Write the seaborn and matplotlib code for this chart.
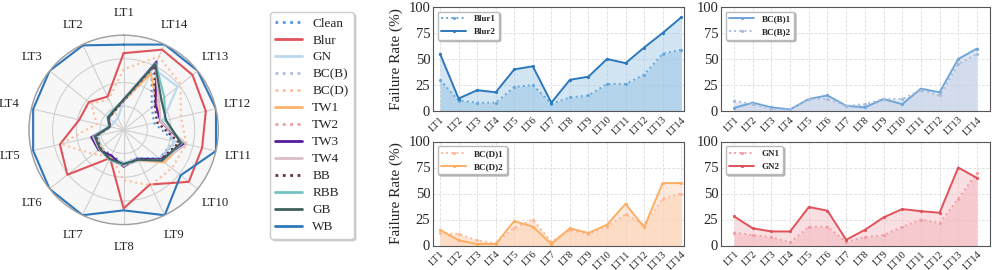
import numpy as np
import pandas as pd
import matplotlib
matplotlib.use("Agg")
import matplotlib.pyplot as plt
import seaborn as sns
from matplotlib.lines import Line2D

# ---------------- data ----------------
categories = ["LT1", "LT2", "LT3", "LT4", "LT5", "LT6", "LT7",
              "LT8", "LT9", "LT10", "LT11", "LT12", "LT13", "LT14"]

radar_names = ["Clean", "Blur", "GN", "BC(B)", "BC(D)", "TW1", "TW2",
               "TW3", "TW4", "BB", "RBB", "GB", "WB"]
r_clean = [30, 22, 20, 14, 28, 30, 30, 35, 33, 48, 55, 33, 38, 68]
r_blur = [81, 39, 47, 48, 69, 76, 33, 83, 64, 88, 85, 89, 93, 94]
r_gn = [30, 14, 13, 14, 28, 30, 33, 35, 34, 50, 55, 42, 73, 72]
r_bcb = [30, 22, 20, 14, 29, 31, 32, 36, 33, 48, 58, 36, 45, 74]
r_bcd = [64, 36, 44, 29, 68, 41, 31, 53, 65, 65, 68, 62, 77, 86]
r_tw1 = [31, 22, 20, 15, 30, 31, 33, 37, 36, 55, 65, 40, 45, 66]
r_tw2 = [31, 23, 21, 15, 30, 32, 33, 37, 35, 50, 60, 38, 45, 76]
r_tw3 = [32, 23, 20, 15, 35, 34, 30, 39, 34, 50, 66, 40, 43, 80]
r_tw4 = [32, 23, 21, 15, 33, 33, 35, 38, 36, 52, 68, 40, 48, 76]
r_bb = [31, 22, 20, 15, 30, 31, 34, 38, 35, 50, 60, 36, 42, 75]
r_rbb = [32, 24, 22, 16, 32, 32, 35, 37, 35, 52, 63, 45, 55, 78]
r_gb = [32, 23, 21, 15, 31, 32, 34, 36, 35, 52, 62, 46, 51, 77]
r_wb = [90, 99, 100, 98, 98, 100, 100, 85, 100, 77, 100, 100, 100, 100]

blur1 = [30, 10, 8, 8, 23, 25, 7, 13, 15, 26, 26, 35, 55, 59]
blur2 = [55, 12, 20, 18, 40, 43, 8, 30, 33, 50, 46, 61, 75, 90]
bcb1 = [3, 8, 3.5, 1.5, 11.5, 15, 5, 3.5, 11.5, 6.5, 21.5, 18, 50, 60]
bcb2 = [10, 6.5, 2, 1.5, 11.5, 11.5, 5, 6.5, 11.5, 11.5, 20, 15, 45, 55]
bcd1 = [12, 11, 5, 2, 17, 25, 3.5, 15, 11, 18, 30, 20, 45, 50]
bcd2 = [15, 5, 1.5, 1.5, 23.5, 18, 1.5, 16.5, 12, 20, 40, 17.5, 60, 60]
gn1 = [12.5, 10, 8, 3, 18, 18, 3.5, 8, 10, 18, 25, 21.5, 45, 70]
gn2 = [28, 16.5, 13.5, 13.5, 37, 33.5, 5.5, 15, 27, 35, 33, 31.5, 75, 65]

# ---------------- style ----------------
sns.set_theme(style="whitegrid")
plt.rcParams["font.family"] = ["Liberation Serif", "DejaVu Sans"]

fig = plt.figure(figsize=(9.97, 2.70), dpi=100)

# ---------------- radar ----------------
radar_series = [r_clean, r_blur, r_gn, r_bcb, r_bcd, r_tw1, r_tw2,
                r_tw3, r_tw4, r_bb, r_rbb, r_gb, r_wb]
radar_colors = ["#4F9BDD", "#E0535B", "#BCD7EE", "#A9BDE3", "#FFBD9B",
                "#FDB36B", "#F2989F", "#561C9C", "#D8C0C6", "#6C2B3E",
                "#73C3C5", "#3E605E", "#2E77B8"]
radar_styles = [":", "-", "-", ":", ":", "-", ":", "-", "-", ":", "-", "-", "-"]

ax_r = fig.add_axes([0.029, 0.167, 0.19, 0.704], projection="polar")
ax_r.set_facecolor("#F7F7F7")
ax_r.set_theta_offset(np.pi / 2)
n = len(categories)
theta = np.arange(n) * 2 * np.pi / n
theta_c = np.append(theta, 2 * np.pi)

handles = []
for name, vals, col, ls in zip(radar_names, radar_series, radar_colors, radar_styles):
    v = np.append(np.array(vals, dtype=float), vals[0])
    sns.lineplot(x=theta_c, y=v, ax=ax_r, sort=False, estimator=None,
                 color=col, linestyle=ls, linewidth=1.5, legend=False)
    handles.append(Line2D([0], [0], color=col, linestyle=ls, linewidth=2.0, label=name))

ax_r.set_thetamin(0)
ax_r.set_thetamax(360)
ax_r.set_ylim(0, 100)
ax_r.set_yticks([25, 50, 75, 100])
ax_r.set_yticklabels([])
ax_r.set_xticks(theta)
ax_r.set_xticklabels(categories, fontsize=9.2)
ax_r.tick_params(axis="x", pad=3)
ax_r.set_xlabel("")
ax_r.set_ylabel("")
ax_r.grid(True, color="#D0D0D0", linewidth=0.8, linestyle="-")
ax_r.spines["polar"].set_color("#A0A0A0")
ax_r.spines["polar"].set_linewidth(1.0)

fig.legend(handles=handles, loc="upper left",
           bbox_to_anchor=(270 / 997, 1 - 12 / 270), borderaxespad=0,
           fontsize=9.5, labelspacing=0.36, handlelength=2.0,
           frameon=True, fancybox=True, framealpha=1, edgecolor="#CCCCCC",
           shadow={"color": "#BBBBBB", "alpha": 0.6, "ox": 1.5, "oy": -1.5})

# ---------------- line panels ----------------
pos = np.arange(n)
panels = [
    (blur1, blur2, "Blur1", "Blur2", ":", "-", "#66A9DB", "#2C78BD", "#9DC6E6", "#9DC6E6"),
    (bcb1, bcb2, "BC(B)1", "BC(B)2", "-", ":", "#6FA6D8", "#A7BBDF", "#C4D2E8", "#C4D2E8"),
    (bcd1, bcd2, "BC(D)1", "BC(D)2", ":", "-", "#FDB99A", "#FDAE64", "#FDD2B3", "#FDD2B3"),
    (gn1, gn2, "GN1", "GN2", ":", "-", "#F0A0A6", "#E0525A", "#F2B8BD", "#F2B8BD"),
]
rects = [
    [433 / 997, (270 - 111) / 270, 251 / 997, 104 / 270],
    [721 / 997, (270 - 111) / 270, 269 / 997, 104 / 270],
    [433 / 997, (270 - 245.5) / 270, 251 / 997, 104 / 270],
    [721 / 997, (270 - 245.5) / 270, 269 / 997, 104 / 270],
]
xlims = [(-0.38, 13.15), (-0.7, 13.7), (-0.38, 13.15), (-0.7, 13.7)]

for i, (p, rect, xl) in enumerate(zip(panels, rects, xlims)):
    a, b, la, lb, lsa, lsb, ca, cb, fa, fb = p
    ax = fig.add_axes(rect)
    df = pd.DataFrame({"pos": pos, "a": a, "b": b})
    ax.fill_between(pos, 0, b, color=fb, alpha=0.45, linewidth=0)
    ax.fill_between(pos, 0, a, color=fa, alpha=0.55, linewidth=0)
    sns.lineplot(data=df, x="pos", y="a", ax=ax, color=ca, linestyle=lsa,
                 linewidth=1.4, marker="o", markersize=2.3, markeredgewidth=0,
                 label=la)
    sns.lineplot(data=df, x="pos", y="b", ax=ax, color=cb, linestyle=lsb,
                 linewidth=1.4, marker="o", markersize=2.3, markeredgewidth=0,
                 label=lb)
    ax.set_xlim(*xl)
    ax.set_ylim(0, 100)
    ax.set_yticks([0, 25, 50, 75, 100])
    ax.set_yticklabels(["0", "25", "50", "75", "100"], fontsize=10.5)
    ax.set_xticks(pos)
    ax.set_xticklabels(categories, fontsize=7.5, rotation=45, ha="right",
                       rotation_mode="anchor")
    ax.tick_params(axis="both", length=0, pad=2)
    ax.tick_params(axis="x", pad=3)
    ax.set_xlabel("")
    if i % 2 == 0:
        ax.set_ylabel("Failure Rate (%)", fontsize=11)
    else:
        ax.set_ylabel("")
    ax.set_facecolor("white")
    ax.grid(True, color="#DDDDDD", linestyle="--", linewidth=0.6)
    for s in ax.spines.values():
        s.set_color("#555555")
        s.set_linewidth(0.8)
    ax.legend(loc="upper left", prop={"weight": "bold", "size": 6.5},
              handlelength=2.8, frameon=True, framealpha=1,
              edgecolor="#BBBBBB", fancybox=True,
              shadow={"color": "#999999", "alpha": 0.6, "ox": 1.2, "oy": -1.2})

fig.savefig("out.png", dpi=100)
